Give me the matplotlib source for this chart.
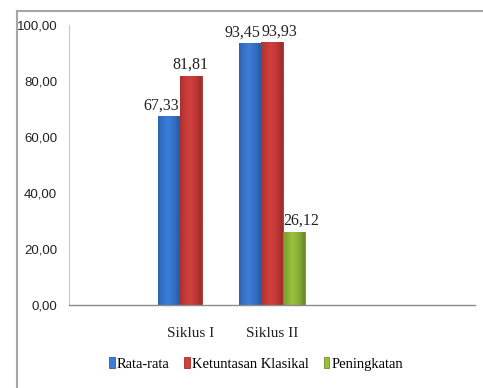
import numpy as np
import matplotlib.pyplot as plt
from matplotlib import font_manager
from matplotlib.colors import to_rgb
from matplotlib.lines import Line2D
from matplotlib.patches import Rectangle

# data
categories = ['', 'Siklus I', 'Siklus II', '', '']
rata_rata = [np.nan, 67.33, 93.45, np.nan, np.nan]
ketuntasan = [np.nan, 81.81, 93.93, np.nan, np.nan]
peningkatan = [np.nan, np.nan, 26.12, np.nan, np.nan]
series_names = ['Rata-rata', 'Ketuntasan Klasikal', 'Peningkatan']
y_ticks = [0, 20, 40, 60, 80, 100]

serif = ['Liberation Serif', 'DejaVu Serif']

# narrow sans for the value axis if available
try:
    font_manager.findfont('Liberation Sans Narrow', fallback_to_default=False)
    tick_font, tick_size = ['Liberation Sans Narrow'], 11
except ValueError:
    tick_font, tick_size = ['Liberation Sans', 'DejaVu Sans'], 9.5

colors = ['#3b7dd8', '#d23f3c', '#98c03c']
dark = ['#2a5ea8', '#a32e2c', '#6f9028']

fig = plt.figure(figsize=(4.83, 3.88), dpi=100)
ax = fig.add_axes([69 / 483, 83 / 388, 406 / 483, 280 / 388])

x = np.arange(len(categories))
w = 0.27


def gradient_bars(ax, xs, heights, color, edge):
    bars = ax.bar(xs, heights, w, color=color, edgecolor=edge, linewidth=0.6, zorder=2)
    # horizontal shading: lighter in the middle, darker at the sides
    c1 = np.array(to_rgb(edge))
    c2 = np.array(to_rgb(color))
    t = np.linspace(0, 1, 64)
    k = np.clip(1 - np.abs(t - 0.45) * 2.2, 0, 1) ** 0.6
    grad = c1[None, :] * (1 - k[:, None]) + c2[None, :] * k[:, None]
    grad = grad[None, :, :]
    for b in bars:
        h = b.get_height()
        if np.isnan(h):
            continue
        im = ax.imshow(grad, extent=[b.get_x(), b.get_x() + b.get_width(), 0, h],
                       aspect='auto', zorder=2.5, interpolation='bilinear')
        im.set_clip_path(b)
    return bars


def fmt(v):
    return f'{v:.2f}'.replace('.', ',')


all_series = [rata_rata, ketuntasan, peningkatan]
for i, vals in enumerate(all_series):
    gradient_bars(ax, x + (i - 1) * w, vals, colors[i], dark[i])

# value labels; first two series pushed apart when their tops are close
for j in range(len(categories)):
    a, b, c = rata_rata[j], ketuntasan[j], peningkatan[j]
    lab_kw = dict(va='bottom', fontsize=11.5, family=serif, color='#222222', zorder=4)
    if not np.isnan(a):
        ax.text(x[j] - w / 2 - 0.01, a + 1.0, fmt(a), ha='right', **lab_kw)
    if not np.isnan(b):
        if not np.isnan(a) and abs(a - b) < 6:
            ax.text(x[j] - w / 2 + 0.01, b + 1.0, fmt(b), ha='left', **lab_kw)
        else:
            ax.text(x[j], b + 1.0, fmt(b), ha='center', **lab_kw)
    if not np.isnan(c):
        ax.text(x[j] + w / 2, c + 1.0, fmt(c), ha='left', **lab_kw)

ax.set_xlim(-0.5, len(categories) - 0.5)
ax.set_ylim(0, 100)
ax.set_yticks(y_ticks)
ax.set_yticklabels([fmt(t) for t in y_ticks], family=tick_font, fontsize=tick_size,
                   color='#222222')
ax.set_xticks(x)
ax.set_xticklabels(categories, family=serif, fontsize=11, color='#222222')
ax.tick_params(axis='y', length=0, pad=8.5)
ax.tick_params(axis='x', length=0, pad=16)

for s in ['top', 'right']:
    ax.spines[s].set_visible(False)
ax.spines['left'].set_color('#c8c8c8')
ax.spines['bottom'].set_color('#8c8c8c')
ax.spines['bottom'].set_linewidth(1.0)

handles = [Rectangle((0, 0), 1, 1, facecolor=c, edgecolor=d, linewidth=0.6)
           for c, d in zip(colors, dark)]
fig.legend(handles, series_names, loc='center', bbox_to_anchor=(256 / 483, 24 / 388),
           ncol=3, frameon=False, prop={'family': serif, 'size': 10.5},
           handlelength=0.4, handleheight=0.8, handletextpad=0.15, columnspacing=1.0)

# outer chart border
fig.add_artist(Line2D([17 / 483, 1], [1 - 11 / 388, 1 - 11 / 388], color='#a6a6a6', lw=1.5))
fig.add_artist(Line2D([17 / 483, 17 / 483], [0, 1 - 11 / 388], color='#a6a6a6', lw=1.5))

fig.savefig('out.png', dpi=100)
